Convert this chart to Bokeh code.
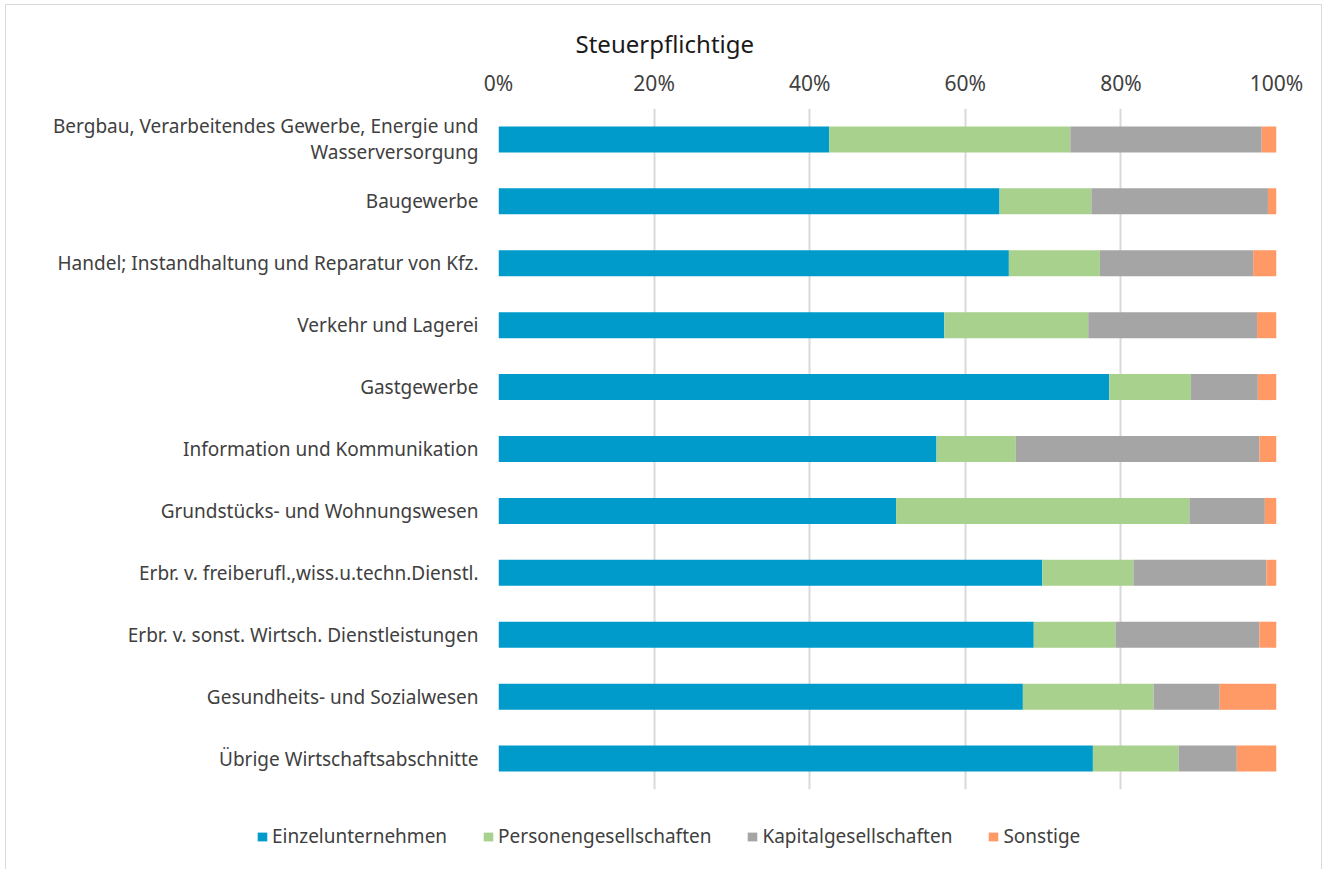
from bokeh.plotting import figure
from bokeh.layouts import column, row
from bokeh.models import (FactorRange, Range1d, FixedTicker, PrintfTickFormatter,
                          Legend, LegendItem, ColumnDataSource, Title)
from bokeh.embed import file_html
from bokeh.resources import INLINE

categories = [
    "Bergbau, Verarbeitendes Gewerbe, Energie und\nWasserversorgung",
    "Baugewerbe",
    "Handel; Instandhaltung und Reparatur von Kfz.",
    "Verkehr und Lagerei",
    "Gastgewerbe",
    "Information und Kommunikation",
    "Grundstücks- und Wohnungswesen",
    "Erbr. v. freiberufl.,wiss.u.techn.Dienstl.",
    "Erbr. v. sonst. Wirtsch. Dienstleistungen",
    "Gesundheits- und Sozialwesen",
    "Übrige Wirtschaftsabschnitte",
]
einzel   = [42.5, 64.4, 65.6, 57.3, 78.5, 56.3, 51.1, 69.9, 68.8, 67.4, 76.4]
personen = [31.0, 11.8, 11.7, 18.5, 10.5, 10.2, 37.7, 11.7, 10.5, 16.8, 11.0]
kapital  = [24.6, 22.7, 19.7, 21.7,  8.6, 31.3,  9.7, 17.1, 18.5,  8.5,  7.5]
sonstige = [ 1.9,  1.1,  3.0,  2.5,  2.4,  2.2,  1.5,  1.3,  2.2,  7.3,  5.1]
series = ["Einzelunternehmen", "Personengesellschaften", "Kapitalgesellschaften", "Sonstige"]
colors = ["#009BCB", "#A9D18E", "#A5A5A5", "#FF9966"]
ticks = [0, 20, 40, 60, 80, 100]
title_text = "Steuerpflichtige"

FONT = "Noto Sans"

src = ColumnDataSource(dict(cat=categories, Einzelunternehmen=einzel,
                            Personengesellschaften=personen,
                            Kapitalgesellschaften=kapital, Sonstige=sonstige))

p = figure(width=1325, height=800, output_backend="svg", toolbar_location=None,
           y_range=FactorRange(factors=list(reversed(categories)), range_padding=0),
           x_range=Range1d(0, 100), x_axis_location="above",
           min_border_left=498, min_border_right=49, min_border_top=108,
           min_border_bottom=11)
p.border_fill_alpha = 0
p.background_fill_alpha = 0
p.outline_line_color = None

rs = p.hbar_stack(series, y="cat", height=0.42, color=colors, source=src,
                  line_color=None)

p.title = Title(text=title_text, align="left", offset=77, text_font=FONT,
                text_font_size="24px", text_font_style="normal",
                text_color="#1a1a1a", standoff=12)

xa = p.xaxis[0]
xa.ticker = FixedTicker(ticks=ticks)
xa.formatter = PrintfTickFormatter(format="%d%%")
xa.axis_line_color = None
xa.major_tick_line_color = None
xa.minor_tick_line_color = None
xa.major_label_text_font = FONT
xa.major_label_text_font_size = "21px"
xa.major_label_text_color = "#404040"
xa.major_label_standoff = 6

ya = p.yaxis[0]
ya.axis_line_color = None
ya.major_tick_line_color = None
ya.minor_tick_line_color = None
ya.major_label_text_font = FONT
ya.major_label_text_font_size = "19px"
ya.major_label_text_color = "#404040"
ya.major_label_text_line_height = 1.0
ya.major_label_standoff = 14

p.xgrid.grid_line_color = "#d9d9d9"
p.xgrid.grid_line_width = 2
p.ygrid.grid_line_color = None

# legend strip below the chart: legend swatches only (zero-height proxy bars)
lg = figure(width=1325, height=69, output_backend="svg", toolbar_location=None,
            x_range=Range1d(1000, 2325), y_range=FactorRange(factors=list(reversed(categories))),
            min_border_left=0, min_border_right=0, min_border_top=0,
            min_border_bottom=0, x_axis_type=None, y_axis_type=None)
lg.border_fill_alpha = 0
lg.background_fill_alpha = 0
lg.outline_line_color = None
lg.grid.visible = False
proxies = lg.hbar_stack(series, y="cat", height=0, color=colors, source=src,
                        line_color=None)

legend = Legend(items=[LegendItem(label=s, renderers=[r]) for s, r in zip(series, proxies)],
                orientation="horizontal", location=(256, 20),
                glyph_width=12, glyph_height=11, label_standoff=4, spacing=35,
                padding=0, margin=0, border_line_color=None,
                background_fill_alpha=0, label_text_font=FONT,
                label_text_font_size="19px", label_text_color="#404040")
lg.add_layout(legend, "center")

layout = column(p, row(lg, spacing=0), spacing=0)
layout.styles = {"box-shadow": ("inset 5px 4px 0 0 white, inset -3px 0 0 0 white, "
                                "inset 6px 5px 0 0 #d9d9d9, inset -4px 0 0 0 #d9d9d9")}

open("out.html", "w").write(file_html(layout, INLINE))
